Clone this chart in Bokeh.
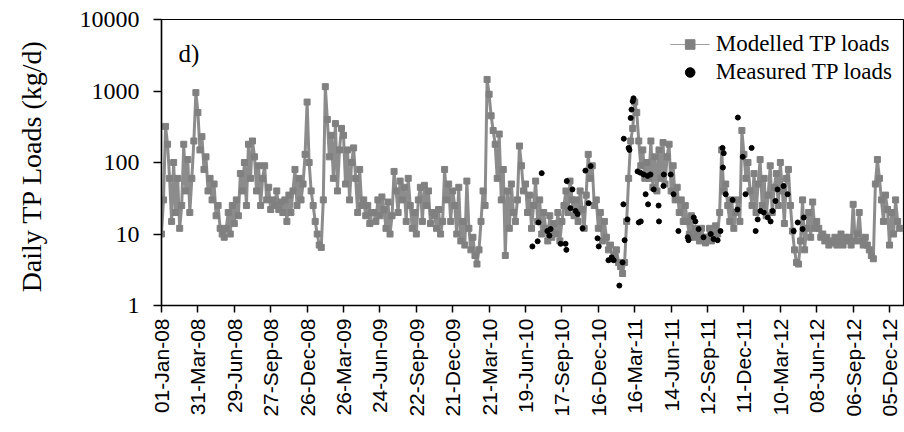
import pandas as pd
from math import pi
from bokeh.plotting import figure
from bokeh.models import (ColumnDataSource, Range1d, FixedTicker, DatetimeTickFormatter,
                          PrintfTickFormatter, Legend, LegendItem, Label)
from bokeh.embed import file_html
from bokeh.resources import INLINE

START = "2008-01-01"

# Modelled daily TP load (kg/d), one value every 5 days from 01-Jan-08
modelled_2008 = [
    10, 30, 320, 180, 60,
    15, 100, 20, 60, 12,
    25, 180, 40, 110, 20,
    60, 200, 950, 500, 150,
    230, 80, 120, 40, 60,
    30, 50, 18, 25, 12,
    10, 9, 12, 20, 10,
    25, 14, 30, 18, 70,
    40, 100, 25, 180, 60,
    200, 120, 40, 90, 25,
    60, 90, 30, 45, 22,
    30, 25, 40, 22, 28,
    20, 30, 15, 35, 20,
    40, 80, 25, 60, 30,
    50, 130, 700, 100, 40,
]
modelled_2009 = [
    25, 15, 10, 7, 6.5,
    30, 1150, 400, 120, 240,
    60, 350, 40, 150, 300,
    240, 50, 150, 30, 100,
    160, 60, 20, 80, 25,
    30, 18, 25, 14, 20,
    20, 15, 30, 18, 33,
    22, 12, 28, 10, 18,
    75, 40, 20, 55, 30,
    45, 15, 60, 25, 12,
    20, 10, 30, 45, 15,
    48, 25, 40, 14, 20,
    18, 12, 22, 10, 15,
    80, 30, 50, 15, 40,
    25, 10, 45, 8, 15,
]
modelled_2010 = [
    7, 55, 12, 6, 9,
    5, 3.8, 6, 15, 40,
    25, 1450, 900, 450, 280,
    180, 60, 250, 30, 80,
    5, 40, 12, 50, 20,
    15, 30, 170, 90, 40,
    50, 20, 35, 12, 25,
    55, 15, 30, 10, 20,
    12, 8, 18, 9, 14,
    10, 20, 8, 15, 25,
    40, 20, 55, 30, 18,
    30, 15, 40, 22, 12,
    35, 130, 60, 90, 25,
    30, 12, 20, 8, 15,
]
modelled_2011 = [
    9, 6, 7, 4.5, 5,
    6, 4, 3.5, 2.8, 4,
    15, 60, 200, 300, 700,
    500, 200, 90, 150, 60,
    100, 60, 200, 45, 120,
    40, 150, 60, 190, 50,
    120, 180, 40, 90, 30,
    45, 20, 30, 15, 25,
    15, 10, 18, 9, 12,
    10, 8, 12, 9, 7.5,
    9, 12, 8, 10, 13,
    10, 20, 150, 40, 50,
    25, 15, 30, 12, 20,
    30, 15, 280, 130, 60,
    100, 40, 25, 70, 20,
]
modelled_2012 = [
    50, 110, 25, 60, 18,
    35, 90, 20, 45, 70,
    25, 100, 40, 14, 60,
    80, 25, 11, 6, 4,
    3.8, 8, 30, 6, 12,
    20, 9, 28, 12, 15,
    12, 9, 10, 8, 9,
    7, 8, 7.5, 9, 7,
    8, 10, 7, 9, 8,
    9, 7, 26, 8, 10,
    20, 8, 7, 9, 7,
    6, 5, 4.5, 50, 110,
    60, 30, 15, 35, 22,
    7, 20, 10, 30, 15,
    12,
]
modelled = modelled_2008 + modelled_2009 + modelled_2010 + modelled_2011 + modelled_2012
modelled_dates = pd.date_range(START, periods=len(modelled), freq="5D")

# Measured TP loads (kg/d)
measured_dates = [
    "2010-07-06", "2010-07-19", "2010-07-21", "2010-07-29", "2010-08-12", "2010-08-17",
    "2010-08-20", "2010-09-14", "2010-09-26", "2010-09-28", "2010-09-29", "2010-10-08",
    "2010-10-13", "2010-10-21", "2010-10-26", "2010-11-07", "2010-11-14", "2010-11-22",
    "2010-11-27", "2010-12-14", "2010-12-17",
    "2011-01-10", "2011-01-18", "2011-01-23", "2011-02-06", "2011-02-14", "2011-02-16",
    "2011-02-17", "2011-02-19", "2011-02-26", "2011-03-01", "2011-03-03", "2011-03-06",
    "2011-03-08", "2011-03-11", "2011-03-13", "2011-03-23", "2011-03-26", "2011-03-30",
    "2011-03-31", "2011-04-07", "2011-04-12", "2011-04-17", "2011-04-18", "2011-04-24",
    "2011-05-02", "2011-05-14", "2011-05-15", "2011-05-26", "2011-05-27", "2011-06-13",
    "2011-06-20", "2011-07-02", "2011-07-25", "2011-07-27", "2011-08-09", "2011-08-13",
    "2011-08-21", "2011-09-02", "2011-09-20", "2011-09-27", "2011-10-07", "2011-10-14",
    "2011-10-19", "2011-10-20", "2011-10-22", "2011-10-27", "2011-11-13", "2011-11-25",
    "2011-11-26", "2011-12-08", "2011-12-15", "2011-12-30",
    "2012-01-09", "2012-01-14", "2012-01-21", "2012-01-29", "2012-02-08", "2012-02-15",
    "2012-02-20", "2012-02-27", "2012-03-03", "2012-03-18", "2012-03-28", "2012-04-12",
    "2012-04-22", "2012-05-04", "2012-05-07",
]
measured = [
    6.7, 7.9, 14.5, 71, 11, 9.5,
    11.7, 7.3, 7.3, 6.0, 55, 23,
    42, 21, 19, 12, 77, 27,
    89, 8.7, 6.7,
    4.3, 4.7, 4.3, 1.9, 4.0, 26,
    215, 8.2, 16, 160, 150, 420,
    550, 720, 790, 75, 14.5, 72,
    15, 68, 36, 65, 26, 68,
    42, 25, 15, 47, 68, 68,
    36, 11, 9, 8.2, 17, 15,
    11.7, 9, 10, 8.5, 8.2, 11,
    160, 85, 135, 36, 30, 22,
    425, 120, 36, 160,
    11, 16, 21, 20, 17, 15,
    21, 29, 42, 47, 36, 11,
    14.5, 11.7, 17,
]
measured_dates = pd.to_datetime(measured_dates)

# Axis ticks: every 90 days from 01-Jan-08, decades on the load axis
x_ticks = pd.date_range(START, periods=21, freq="90D")
y_ticks = [1, 10, 100, 1000, 10000]

SERIF = "Liberation Serif"
SANS = "Liberation Sans"
GREY = "#808080"

model_src = ColumnDataSource(dict(date=modelled_dates, load=modelled))
meas_src = ColumnDataSource(dict(date=measured_dates, load=measured))

t0 = pd.Timestamp(START)
p = figure(
    width=904, height=432,
    x_axis_type="datetime", y_axis_type="log",
    x_range=Range1d(t0, t0 + pd.Timedelta(days=1837)),
    y_range=Range1d(1, 10000),
    output_backend="svg", toolbar_location=None,
    min_border_left=161, min_border_right=0, min_border_top=19, min_border_bottom=127,
)
p.background_fill_color = "white"
p.border_fill_color = "white"
p.outline_line_color = "black"
p.outline_line_width = 1.2
p.xgrid.visible = False
p.ygrid.visible = False

# modelled series: thin connecting line (legend swatch), broad grey band and square markers
r_thin = p.line(x="date", y="load", source=model_src, line_color="#a0a0a0", line_width=1.2)
p.line(x="date", y="load", source=model_src, line_color="#8c8c8c", line_width=3)
r_sq = p.scatter(x="date", y="load", source=model_src, marker="square", size=6,
                 fill_color=GREY, line_color=GREY)
r_meas = p.scatter(x="date", y="load", source=meas_src, marker="circle", size=5,
                   fill_color="black", line_color="black")

# x axis
xa = p.xaxis[0]
xa.ticker = FixedTicker(ticks=[t.value / 1e6 for t in x_ticks])
fmt = "%d-%b-%y"
xa.formatter = DatetimeTickFormatter(
    microseconds=fmt, milliseconds=fmt, seconds=fmt, minsec=fmt, minutes=fmt,
    hourmin=fmt, hours=fmt, days=fmt, months=fmt, years=fmt)
xa.major_label_orientation = pi / 2
xa.major_label_text_font = SANS
xa.major_label_text_font_size = "21px"
xa.major_label_text_color = "black"
xa.major_label_standoff = 6
xa.axis_line_color = "black"
xa.axis_line_width = 1.5
xa.major_tick_line_color = "black"
xa.major_tick_line_width = 1.5
xa.major_tick_out = 7
xa.major_tick_in = 0
xa.minor_tick_line_color = None

# y axis
ya = p.yaxis[0]
ya.ticker = FixedTicker(ticks=y_ticks)
ya.formatter = PrintfTickFormatter(format="%d")
ya.major_label_text_font = SERIF
ya.major_label_text_font_size = "24px"
ya.major_label_text_color = "black"
ya.major_label_standoff = 14
ya.axis_line_color = "black"
ya.axis_line_width = 1.5
ya.major_tick_line_color = "black"
ya.major_tick_line_width = 1.5
ya.major_tick_out = 8
ya.major_tick_in = 0
ya.minor_tick_line_color = None
ya.axis_label = "Daily  TP Loads (kg/d)"
ya.axis_label_text_font = SERIF
ya.axis_label_text_font_size = "28px"
ya.axis_label_text_font_style = "normal"
ya.axis_label_text_color = "black"
ya.axis_label_standoff = 30

p.add_layout(Label(x=17, y=252, x_units="screen", y_units="screen", text="d)",
                   text_font=SERIF, text_font_size="25px", text_color="black",
                   text_baseline="alphabetic"))

legend = Legend(
    items=[LegendItem(label="Modelled TP loads", renderers=[r_thin, r_sq]),
           LegendItem(label="Measured TP loads", renderers=[r_meas])],
    location="top_right", margin=12, padding=6, spacing=2,
    glyph_width=40, glyph_height=24, label_height=24, label_standoff=6,
    label_text_font=SERIF, label_text_font_size="23px", label_text_color="black",
    border_line_color=None, background_fill_alpha=0,
)
p.add_layout(legend)

open("out.html", "w").write(file_html(p, INLINE))
